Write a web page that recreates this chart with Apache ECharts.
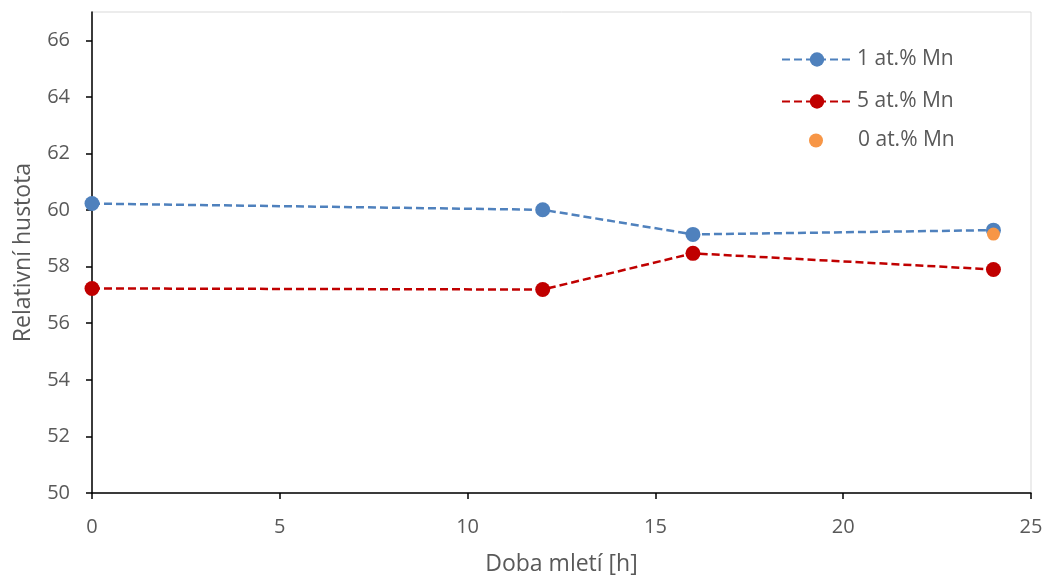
<!DOCTYPE html>
<html><head><meta charset="utf-8">
<script src="https://cdn.jsdelivr.net/npm/echarts@6/dist/echarts.min.js"></script>
<style>html,body{margin:0;padding:0;background:#fff}#c{width:1045px;height:575px}</style>
</head><body><div id="c"></div>
<script>
const hours1 = [0, 12, 16, 24];
const mn1 = [60.23, 60.01, 59.14, 59.29];
const hours5 = [0, 12, 16, 24];
const mn5 = [57.23, 57.19, 58.47, 57.9];
const hours0 = [24];
const mn0 = [59.15];
const seriesNames = ['1 at.% Mn', '5 at.% Mn', '0 at.% Mn'];
const xTitle = 'Doba mletí [h]';
const yTitle = 'Relativní hustota';

const pair = (xs, ys) => xs.map((x, i) => [x, ys[i]]);
const font = '"Open Sans", "Liberation Sans", sans-serif';
const legendText = { fontSize: 21, color: '#595959', fontFamily: font };
const chart = echarts.init(document.getElementById('c'));
chart.setOption({
  animation: false,
  textStyle: { fontFamily: font },
  grid: { left: 92, right: 14, top: 12, bottom: 82, outerBoundsMode: 'none', containLabel: false,
    show: true, borderColor: '#d9d9d9', borderWidth: 1, backgroundColor: '#fff' },
  legend: [
    { orient: 'vertical', left: 781, top: 49, padding: 0, itemGap: 21, itemWidth: 70, itemHeight: 18,
      textStyle: legendText, data: [seriesNames[0], seriesNames[1]] },
    { orient: 'vertical', left: 809, top: 130, padding: 0, itemWidth: 14, itemHeight: 14,
      textStyle: Object.assign({ padding: [0, 0, 0, 30] }, legendText), data: [seriesNames[2]] }
  ],
  xAxis: {
    type: 'value', min: 0, max: 25, interval: 5,
    name: xTitle, nameLocation: 'middle', nameGap: 60,
    nameTextStyle: { fontSize: 23, color: '#595959' },
    axisLine: { lineStyle: { color: '#000', width: 1.5 } },
    axisTick: { show: true, length: 6, lineStyle: { color: '#000', width: 1.5 } },
    axisLabel: { fontSize: 20, color: '#595959', margin: 24 },
    splitLine: { show: false }
  },
  yAxis: {
    type: 'value', min: 50, max: 67, interval: 2,
    name: yTitle, nameLocation: 'middle', nameGap: 57,
    nameTextStyle: { fontSize: 23, color: '#595959' },
    axisLine: { show: true, lineStyle: { color: '#000', width: 1.5 } },
    axisTick: { show: true, length: 6, lineStyle: { color: '#000', width: 1.5 } },
    axisLabel: { fontSize: 20, color: '#595959', margin: 22, showMaxLabel: false },
    splitLine: { show: false }
  },
  series: [
    { name: seriesNames[0], type: 'line', data: pair(hours1, mn1), symbol: 'circle', symbolSize: 15,
      itemStyle: { color: '#4f81bd' }, lineStyle: { color: '#4f81bd', width: 2.5, type: [8, 4] }, z: 3 },
    { name: seriesNames[1], type: 'line', data: pair(hours5, mn5), symbol: 'circle', symbolSize: 15,
      itemStyle: { color: '#c00000' }, lineStyle: { color: '#c00000', width: 2.5, type: [8, 4] }, z: 3 },
    { name: seriesNames[2], type: 'scatter', data: pair(hours0, mn0), symbol: 'circle', symbolSize: 13,
      itemStyle: { color: '#f79646', opacity: 1 }, z: 4 }
  ]
});
</script></body></html>
